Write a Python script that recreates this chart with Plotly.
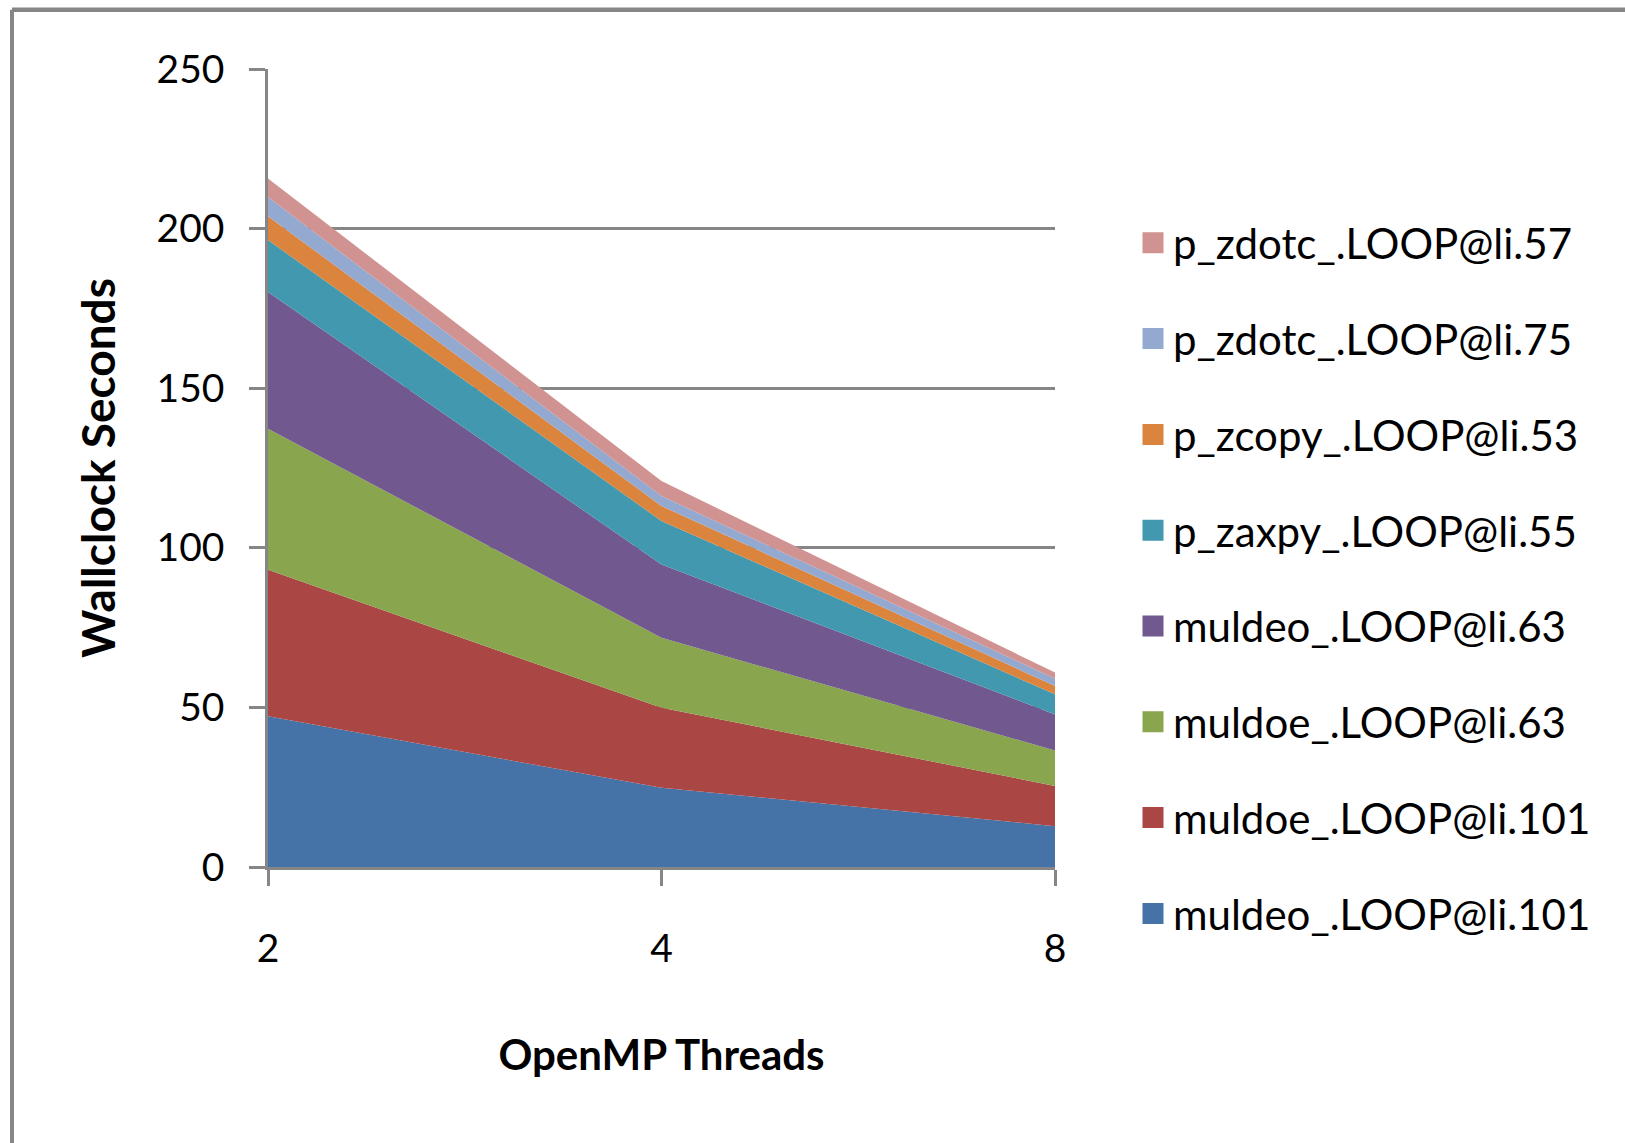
import plotly.graph_objects as go

threads = ["2", "4", "8"]
series_names = [
    "muldeo_.LOOP@li.101",
    "muldoe_.LOOP@li.101",
    "muldoe_.LOOP@li.63",
    "muldeo_.LOOP@li.63",
    "p_zaxpy_.LOOP@li.55",
    "p_zcopy_.LOOP@li.53",
    "p_zdotc_.LOOP@li.75",
    "p_zdotc_.LOOP@li.57",
]
muldeo_101 = [47.2, 24.8, 12.8]
muldoe_101 = [45.9, 25.1, 12.6]
muldoe_63 = [44.2, 21.9, 11.1]
muldeo_63 = [42.8, 23.0, 11.3]
p_zaxpy_55 = [16.3, 13.6, 6.3]
p_zcopy_53 = [7.5, 4.7, 2.6]
p_zdotc_75 = [6.0, 3.1, 2.3]
p_zdotc_57 = [5.8, 4.7, 1.9]
series_values = [muldeo_101, muldoe_101, muldoe_63, muldeo_63,
                 p_zaxpy_55, p_zcopy_53, p_zdotc_75, p_zdotc_57]
colors = ["#4572A7", "#AA4643", "#89A54E", "#71588F",
          "#4198AF", "#DB843D", "#93A9CF", "#D19392"]
y_ticks = [0, 50, 100, 150, 200, 250]

FONT = "Lato, sans-serif"
GRAY = "#868686"

W, H = 1625, 1143
L, R, T, B = 268, 1055, 69, 867

xs = list(range(len(threads)))
fig = go.Figure()
for name, vals, col in zip(series_names, series_values, colors):
    fig.add_trace(go.Scatter(
        x=xs, y=vals, name=name, mode="lines", stackgroup="one",
        line=dict(width=0, color=col), fillcolor=col, showlegend=False,
        hoverinfo="x+y+name"))
# legend entries: top of the stack first
order = list(range(len(series_names)))[::-1]
for k, i in enumerate(order):
    fig.add_trace(go.Scatter(
        x=[None], y=[None], name=series_names[i], mode="markers",
        marker=dict(symbol="square", size=16, color=colors[i],
                    line=dict(width=5, color=colors[i])),
        legendgroup=f"g{k}", showlegend=True))

def px_x(p):
    return (p - L) / (R - L)

def px_y(p):
    return (B - p) / (B - T)

shapes = [
    dict(type="line", xref="paper", yref="paper",
         x0=px_x(12), x1=px_x(1700), y0=px_y(9.7), y1=px_y(9.7),
         line=dict(color=GRAY, width=4.5)),
    dict(type="line", xref="paper", yref="paper",
         x0=px_x(12), x1=px_x(12), y0=px_y(9.7), y1=px_y(1200),
         line=dict(color=GRAY, width=4)),
]

fig.update_layout(
    width=W, height=H,
    margin=dict(l=L, r=W - R, t=T, b=H - B, pad=0),
    paper_bgcolor="white", plot_bgcolor="white",
    font=dict(family=FONT, color="black", size=42),
    shapes=shapes,
    showlegend=True,
    legend=dict(
        x=px_x(1133), y=px_y(209), xanchor="left", yanchor="top",
        traceorder="grouped", tracegroupgap=38.2,
        font=dict(family=FONT, size=42, color="black"),
        bgcolor="rgba(0,0,0,0)", borderwidth=0, itemwidth=30,
    ),
    xaxis=dict(
        range=[0, len(threads) - 1], tickmode="array", tickvals=xs,
        ticktext=threads, showgrid=False, zeroline=False,
        showline=True, linecolor=GRAY, linewidth=2.5,
        ticks="outside", ticklen=16, tickwidth=2.5, tickcolor=GRAY,
        tickfont=dict(family=FONT, size=39, color="black"),
        ticklabelstandoff=29,
        title=dict(text="<b>OpenMP Threads</b>", standoff=73,
                   font=dict(family=FONT, size=42, color="black")),
    ),
    yaxis=dict(
        range=[0, 250], tickmode="array", tickvals=y_ticks,
        showgrid=True, gridcolor=GRAY, gridwidth=2.5, zeroline=False,
        showline=True, linecolor=GRAY, linewidth=2.5,
        ticks="outside", ticklen=16, tickwidth=2.5, tickcolor=GRAY,
        tickfont=dict(family=FONT, size=39, color="black"),
        ticklabelstandoff=17,
        title=dict(text="<b>Wallclock Seconds</b>", standoff=27,
                   font=dict(family=FONT, size=46, color="black")),
    ),
)

fig.write_html("out.html")
